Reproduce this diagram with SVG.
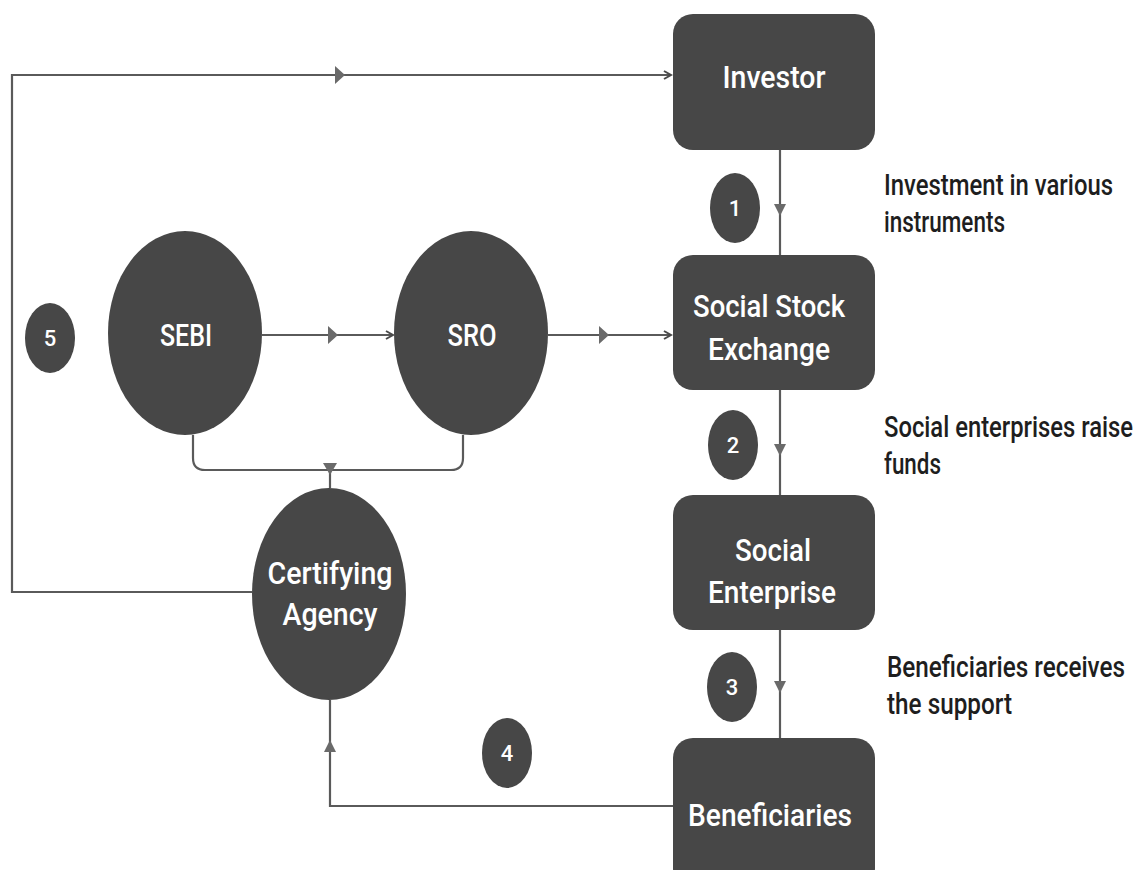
<svg xmlns="http://www.w3.org/2000/svg" width="1135" height="870" viewBox="0 0 1135 870">
<style>
.node{fill:#474747}
.nt{fill:#ffffff;font-family:Roboto,"Liberation Sans",sans-serif;font-size:31px;font-weight:500;text-anchor:middle}
.num{fill:#ffffff;font-family:Roboto,"Liberation Sans",sans-serif;font-size:22px;font-weight:500;text-anchor:middle}
.lbl{fill:#1e1e1e;font-family:Roboto,"Liberation Sans",sans-serif;font-size:30px;font-weight:500}
.ln{fill:none;stroke:#5a5a5a;stroke-width:2.2}
.tri{fill:#6a6a6a}
</style>
<defs>
<marker id="end" markerWidth="10" markerHeight="10" refX="8" refY="5" orient="auto" markerUnits="userSpaceOnUse">
<path d="M1,1 L8,5 L1,9" fill="none" stroke="#4a4a4a" stroke-width="2"/>
</marker>
</defs>
<g id="connectors">
<path class="ln" d="M252,592 H12 V75 H671" marker-end="url(#end)"/>
<path class="tri" d="M335,66 L345,75 L335,84 Z"/>
<path class="ln" d="M780,150 V255"/>
<path class="tri" d="M774,204 L786,204 L780,216 Z"/>
<path class="ln" d="M780,390 V495"/>
<path class="tri" d="M774,444 L786,444 L780,456 Z"/>
<path class="ln" d="M780,630 V738"/>
<path class="tri" d="M774,681 L786,681 L780,693 Z"/>
<path class="ln" d="M262,335 H393" marker-end="url(#end)"/>
<path class="tri" d="M328,326 L338,335 L328,344 Z"/>
<path class="ln" d="M548,335 H671" marker-end="url(#end)"/>
<path class="tri" d="M599,326 L609,335 L599,344 Z"/>
<path class="ln" d="M193,435 V458 Q193,470 205,470 H451 Q463,470 463,458 V435"/>
<path class="ln" d="M330,470 V488"/>
<path class="tri" d="M323,463 L337,463 L330,475 Z"/>
<path class="ln" d="M673,806 H330 V700"/>
<path class="tri" d="M324,752 L336,752 L330,740 Z"/>
</g>
<g id="investor"><rect class="node" x="673" y="14" width="202" height="136" rx="20"/><text class="nt" x="774" y="88" textLength="103" lengthAdjust="spacingAndGlyphs">Investor</text></g>
<g id="sse"><rect class="node" x="673" y="255" width="202" height="135" rx="20"/><text class="nt" x="769" y="317" textLength="152" lengthAdjust="spacingAndGlyphs">Social Stock</text><text class="nt" x="769" y="360" textLength="122" lengthAdjust="spacingAndGlyphs">Exchange</text></g>
<g id="se"><rect class="node" x="673" y="495" width="202" height="135" rx="20"/><text class="nt" x="773" y="561" textLength="76" lengthAdjust="spacingAndGlyphs">Social</text><text class="nt" x="772" y="603" textLength="128" lengthAdjust="spacingAndGlyphs">Enterprise</text></g>
<g id="beneficiaries"><rect class="node" x="673" y="738" width="202" height="150" rx="20"/><text class="nt" x="770" y="826" textLength="164" lengthAdjust="spacingAndGlyphs">Beneficiaries</text></g>
<g id="sebi"><ellipse class="node" cx="185" cy="333" rx="77" ry="102"/><text class="nt" x="186" y="346" textLength="52" lengthAdjust="spacingAndGlyphs">SEBI</text></g>
<g id="sro"><ellipse class="node" cx="471" cy="333" rx="77" ry="102"/><text class="nt" x="472" y="346" textLength="49" lengthAdjust="spacingAndGlyphs">SRO</text></g>
<g id="certifying"><ellipse class="node" cx="329" cy="594" rx="77" ry="106"/><text class="nt" x="330" y="584" textLength="125" lengthAdjust="spacingAndGlyphs">Certifying</text><text class="nt" x="330" y="625" textLength="95" lengthAdjust="spacingAndGlyphs">Agency</text></g>
<g id="n1"><ellipse class="node" cx="735" cy="208" rx="25" ry="35"/><text class="num" x="735" y="216">1</text></g>
<g id="n2"><ellipse class="node" cx="733" cy="445" rx="25" ry="35"/><text class="num" x="733" y="453">2</text></g>
<g id="n3"><ellipse class="node" cx="732" cy="687" rx="25" ry="35"/><text class="num" x="732" y="695">3</text></g>
<g id="n4"><ellipse class="node" cx="507" cy="753" rx="25" ry="35"/><text class="num" x="507" y="761">4</text></g>
<g id="n5"><ellipse class="node" cx="50" cy="338" rx="25" ry="35"/><text class="num" x="50" y="346">5</text></g>
<g id="labels">
<text class="lbl" x="884" y="195" textLength="229" lengthAdjust="spacingAndGlyphs">Investment in various</text>
<text class="lbl" x="884" y="232" textLength="121" lengthAdjust="spacingAndGlyphs">instruments</text>
<text class="lbl" x="884" y="437" textLength="249" lengthAdjust="spacingAndGlyphs">Social enterprises raise</text>
<text class="lbl" x="884" y="474" textLength="57" lengthAdjust="spacingAndGlyphs">funds</text>
<text class="lbl" x="887" y="677" textLength="238" lengthAdjust="spacingAndGlyphs">Beneficiaries receives</text>
<text class="lbl" x="887" y="714" textLength="125" lengthAdjust="spacingAndGlyphs">the support</text>
</g>
</svg>
